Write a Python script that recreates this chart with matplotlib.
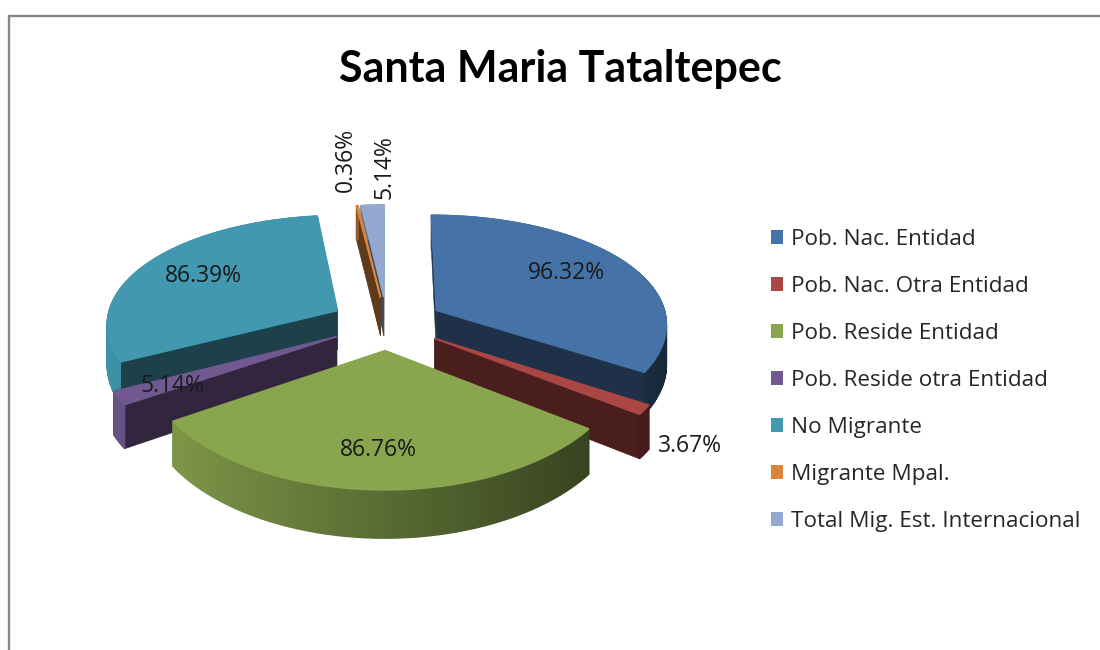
import numpy as np
import matplotlib
matplotlib.use("Agg")
import matplotlib.pyplot as plt
from matplotlib.patches import Patch, Polygon

# datos
categorias = ["Pob. Nac. Entidad", "Pob. Nac. Otra Entidad", "Pob. Reside Entidad",
              "Pob. Reside otra Entidad", "No Migrante", "Migrante Mpal.",
              "Total Mig. Est. Internacional"]
valores = [96.32, 3.67, 86.76, 5.14, 86.39, 0.36, 5.14]
colores = ["#4572A7", "#AA4643", "#89A54E", "#71588F", "#4198AF", "#DB843D", "#93A9CF"]

# posicion de las etiquetas, en pixeles
etiq_x = [566, 690, 378, 172, 203, 346, 385]
etiq_y = [273, 446, 450, 386, 276, 160, 167]
etiq_rot = [0, 0, 0, 0, 0, 90, 90]

# geometria de la "tarta 3D"
CX, CY = 387, 323
RX = 231.0     # radio en x
R = 237.0      # radio en y
E = 57.0       # separacion de las porciones
K = 0.47       # aplastamiento
P = 0.000585   # perspectiva
H = 40.0       # altura


def proy(X, Y, z=0.0):
    f = 1 + P * Y
    return CX + X / (1 + 0.8 * P * Y), CY - K * Y / f + z / f


def oscurece(c, f):
    return tuple(np.array(matplotlib.colors.to_rgb(c)) * f)


fig = plt.figure(figsize=(11, 6.5), dpi=100)
ax = fig.add_axes([0, 0, 1, 1])
ax.set_xlim(0, 1100)
ax.set_ylim(650, 0)
ax.axis("off")

# marco gris del grafico
ax.plot([8.5, 8.5, 1100], [650, 15.5, 15.5], color="#868686", lw=1.7, solid_joinstyle="miter")

angulos = np.cumsum([0] + valores) / sum(valores) * 2 * np.pi
porciones = []
for i in range(len(valores)):
    porciones.append((angulos[i], angulos[i + 1], colores[i]))
# de atras hacia adelante
porciones.sort(key=lambda p: -np.cos((p[0] + p[1]) / 2))

for a0, a1, col in porciones:
    med = (a0 + a1) / 2
    ox, oy = E * np.sin(med), E * np.cos(med)
    th = np.linspace(a0, a1, max(4, int((a1 - a0) * 60)))
    X = ox + RX * np.sin(th)
    Y = oy + R * np.cos(th)

    # caras de corte
    for k in (0, -1):
        p = [proy(ox, oy), proy(X[k], Y[k]), proy(X[k], Y[k], H), proy(ox, oy, H)]
        ax.add_patch(Polygon(p, closed=True, fc=oscurece(col, 0.43), ec=oscurece(col, 0.43), lw=0.4))

    # pared exterior con degradado horizontal
    for j in range(len(th) - 1):
        t = (np.sin((th[j] + th[j + 1]) / 2) + 1) / 2
        c = oscurece(col, 0.96 - 0.62 * t)
        p = [proy(X[j], Y[j]), proy(X[j + 1], Y[j + 1]),
             proy(X[j + 1], Y[j + 1], H), proy(X[j], Y[j], H)]
        ax.add_patch(Polygon(p, closed=True, fc=c, ec=c, lw=1.0, joinstyle="bevel"))

    # cara superior
    p = [proy(ox, oy)] + [proy(x, y) for x, y in zip(X, Y)]
    ax.add_patch(Polygon(p, closed=True, fc=col, ec=col, lw=1.2, joinstyle="bevel"))

for v, x, y, r in zip(valores, etiq_x, etiq_y, etiq_rot):
    ax.text(x, y, "%.2f%%" % v, ha="center", va="center", rotation=r,
            fontsize=16.5, family="Open Sans", color="#1a1a1a")

ax.text(560, 69, "Santa Maria Tataltepec", ha="center", va="center",
        fontsize=31, family="Lato", fontweight="bold", color="black")

handles = [Patch(fc=c, ec=c, lw=0) for c in colores]
ax.legend(handles, categorias, loc="upper left", bbox_to_anchor=(771, 229),
          bbox_transform=ax.transData, frameon=False, borderpad=0, borderaxespad=0,
          prop={"family": "Open Sans", "size": 16.2}, labelcolor="#262626",
          labelspacing=1.157, handlelength=0.55, handleheight=0.55, handletextpad=0.33)

fig.savefig("out.png", dpi=100)
